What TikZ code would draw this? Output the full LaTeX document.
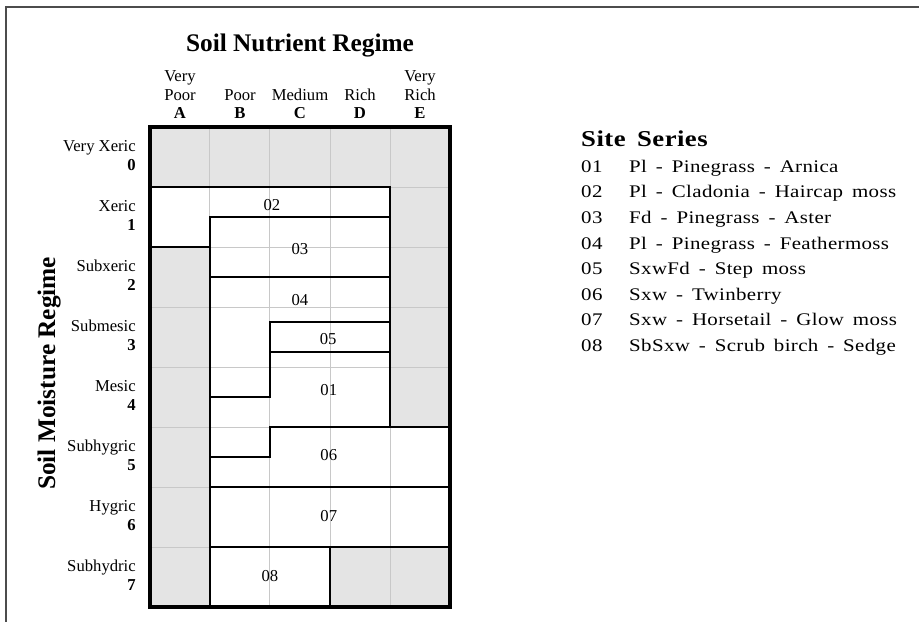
\documentclass[tikz,border=0pt]{standalone}
\usepackage{fontspec}
\setmainfont{Liberation Serif}
\newfontfamily\widefont[FakeStretch=1.18,WordSpace=1.6,LetterSpace=2]{Liberation Serif}
\usetikzlibrary{positioning}
\definecolor{cellgray}{RGB}{228,228,228}
\definecolor{thingrid}{RGB}{200,200,200}
\newcommand\zonelist{
{(0,1) -- (4,1) -- (4,1.5) -- (1,1.5) -- (1,2) -- (0,2)},
{(1,1.5) -- (4,1.5) -- (4,2.5) -- (1,2.5)},
{(1,2.5) -- (4,2.5) -- (4,3.25) -- (2,3.25) -- (2,4.5) -- (1,4.5)},
{(2,3.25) -- (4,3.25) -- (4,3.75) -- (2,3.75)},
{(2,3.75) -- (4,3.75) -- (4,5) -- (2,5) -- (2,5.5) -- (1,5.5) -- (1,4.5) -- (2,4.5)},
{(2,5) -- (5,5) -- (5,6) -- (1,6) -- (1,5.5) -- (2,5.5)},
{(1,6) -- (5,6) -- (5,7) -- (1,7)},
{(1,7) -- (3,7) -- (3,8) -- (1,8)}}

\begin{document}
\begin{tikzpicture}[x=45pt,y=-45pt,
zone/.style={draw=black,line width=2pt,line join=miter},
gridline/.style={draw=thingrid,line width=0.75pt},
rowname/.style={anchor=base east,inner sep=0pt,font=\fontsize{12.5}{15}\selectfont},
colhead/.style={anchor=base,inner sep=0pt,font=\fontsize{12.5}{15}\selectfont},
zonelabel/.style={anchor=base,inner sep=0pt,font=\fontsize{12.5}{14}\selectfont},
seriesitem/.style={anchor=base west,inner sep=0pt,font=\widefont\fontsize{13.3}{15}\selectfont},
bigtitle/.style={anchor=base,inner sep=0pt,font=\bfseries\fontsize{19}{22}\selectfont}]

\useasboundingbox (-2.5,-2.1167) rectangle (12.8167,8.25);
\draw[black!70,line width=1.5pt] (-2.4,8.25) coordinate(fb) -- (-2.4,-2) coordinate(fc) -- (12.8167,-2) coordinate(fr);

\fill[cellgray] (0,0) coordinate(O) rectangle (5,8) coordinate(G);

\foreach \pts in \zonelist{
\fill[white] \pts -- cycle;
}

\foreach \xx in{1,2,...,4}{
\draw[gridline] (\xx,0) -- (\xx,8);
}
\foreach \yy in{1,2,...,7}{
\draw[gridline] (0,\yy) -- (5,\yy);
}

\foreach \pts in \zonelist{
\draw[zone] \pts -- cycle;
}
\draw[line width=2.5pt] (O) rectangle (G);

\node[bigtitle] (nutrient) at (2.5,-1.255) {Soil Nutrient Regime};
\node[bigtitle,rotate=90] (moisture) at (-1.583,4.106) {Soil Moisture Regime};

\foreach \nb/\lt/\i in{Poor/A/0,Poor/B/1,Medium/C/2,Rich/D/3,Rich/E/4}{
\node[colhead] (nb\lt) at (\i+0.5,-0.45) {\nb};
\node[colhead,font=\bfseries\fontsize{12.5}{15}\selectfont] (let\lt) at (\i+0.5,-0.145) {\lt};
}
\node[colhead] (veryA) at (0.5,-0.755) {Very};
\node[colhead] (veryE) at (4.5,-0.755) {Very};

\foreach \nm/\k in{Very Xeric/0,Xeric/1,Subxeric/2,Submesic/3,Mesic/4,Subhygric/5,Hygric/6,Subhydric/7}{
\node[rowname] (m\k) at (-0.233,\k+0.41) {\nm};
\node[rowname,font=\bfseries\fontsize{12.5}{15}\selectfont] (n\k) at (-0.233,\k+0.717) {\k};
}

\foreach \zz/\xx/\yy in{01/2.98/4.467,02/2.033/1.395,03/2.5/2.117,04/2.5/2.978,05/2.97/3.617,06/2.98/5.55,07/2.98/6.578,08/2.0/7.578}{
\node[zonelabel] (z\zz) at (\xx,\yy) {\zz};
}

\node[seriesitem,font=\widefont\bfseries\fontsize{17}{20}\selectfont] (series) at (7.183,0.317) {Site Series};
\foreach \sn/\sname [count=\r from 0] in{01/Pl - Pinegrass - Arnica,02/Pl - Cladonia - Haircap moss,03/Fd - Pinegrass - Aster,04/Pl - Pinegrass - Feathermoss,05/SxwFd - Step moss,06/Sxw - Twinberry,07/Sxw - Horsetail - Glow moss,08/SbSxw - Scrub birch - Sedge}{
\node[seriesitem] (s\sn) at (7.183,0.757+0.426*\r) {\sn};
\node[seriesitem] (t\sn) at (7.983,0.757+0.426*\r) {\sname};
}

\end{tikzpicture}
\end{document}
